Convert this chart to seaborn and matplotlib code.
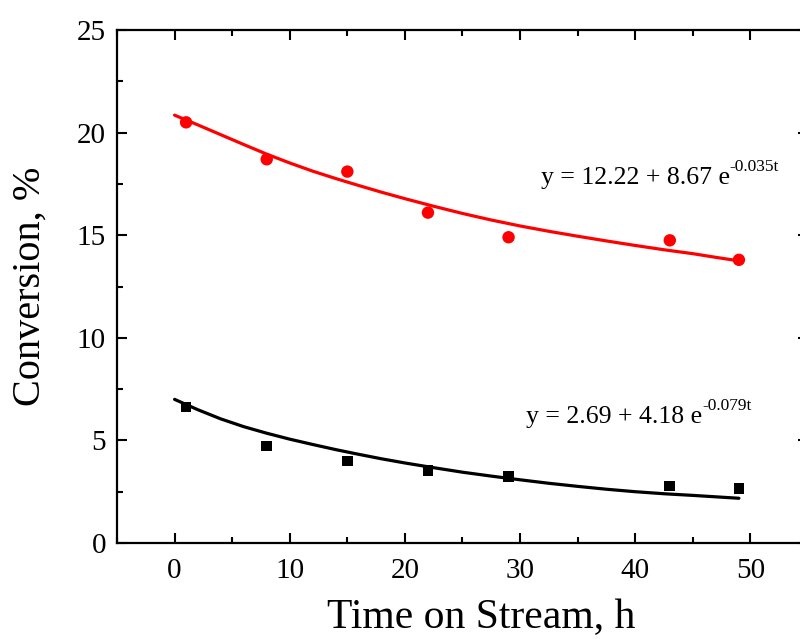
import matplotlib
matplotlib.use("Agg")
import matplotlib.pyplot as plt
from matplotlib.ticker import MultipleLocator
import seaborn as sns
import pandas as pd

# measured points
time_h = [1, 8, 15, 22, 29, 43, 49]
conv_red = [20.5, 18.7, 18.1, 16.1, 14.9, 14.75, 13.8]
conv_black = [6.63, 4.73, 4.0, 3.54, 3.24, 2.78, 2.66]

# fitted curves
fit_t = [0, 2, 4, 6, 8, 10, 12, 14, 16, 18, 20, 22.5, 25, 27.5, 30, 32.5, 35, 37.5, 40, 42.5, 45, 47, 49]
fit_red = [20.85, 20.38, 19.90, 19.42, 18.95, 18.52, 18.12, 17.76, 17.42, 17.09, 16.78, 16.41, 16.06, 15.74, 15.45,
           15.19, 14.95, 14.72, 14.50, 14.29, 14.10, 13.92, 13.75]
fit_black = [7.00, 6.50, 6.05, 5.67, 5.35, 5.06, 4.80, 4.55, 4.32, 4.10, 3.90, 3.67, 3.45, 3.26, 3.08,
             2.91, 2.76, 2.62, 2.50, 2.40, 2.32, 2.25, 2.18]

eq_red_main, eq_red_sup = "y = 12.22 + 8.67 e", "-0.035t"
eq_black_main, eq_black_sup = "y = 2.69 + 4.18 e", "-0.079t"

sns.set_theme(style="ticks")
plt.rcParams["font.family"] = ["Liberation Serif", "DejaVu Serif"]
plt.rcParams["text.color"] = "black"
plt.rcParams["axes.labelcolor"] = "black"
plt.rcParams["xtick.color"] = "black"
plt.rcParams["ytick.color"] = "black"

pts = pd.DataFrame({"t": time_h, "red": conv_red, "black": conv_black})
fit = pd.DataFrame({"t": fit_t, "red": fit_red, "black": fit_black})

fig = plt.figure(figsize=(8, 6.39), dpi=100)
ax = fig.add_axes([117 / 800, 1 - 543 / 639, 691 / 800, 513 / 639])

sns.lineplot(data=fit, x="t", y="red", color="#ff0000", lw=2.3, ax=ax)
sns.lineplot(data=fit, x="t", y="black", color="black", lw=2.3, ax=ax)
sns.scatterplot(data=pts, x="t", y="red", color="#ff0000", marker="o", s=80,
                edgecolor="none", ax=ax, zorder=5)
sns.scatterplot(data=pts, x="t", y="black", color="black", marker="s", s=60,
                edgecolor="none", ax=ax, zorder=5)

ax.set_xlim(-5, 55)
ax.set_ylim(0, 25)
ax.xaxis.set_major_locator(MultipleLocator(10))
ax.xaxis.set_minor_locator(MultipleLocator(5))
ax.yaxis.set_major_locator(MultipleLocator(5))
ax.yaxis.set_minor_locator(MultipleLocator(2.5))

for s in ax.spines.values():
    s.set_visible(True)
    s.set_linewidth(1.6)
    s.set_color("black")

ax.tick_params(which="both", direction="in", top=True, right=True, width=1.5,
               color="black", labelcolor="black")
ax.tick_params(which="major", length=7)
ax.tick_params(which="minor", length=4.5)
ax.tick_params(axis="x", which="major", labelsize=21, pad=11)
ax.tick_params(axis="y", which="major", labelsize=21, pad=8)

ax.set_xlabel("Time on Stream, h", fontsize=30, color="black")
ax.set_ylabel("Conversion, %", fontsize=29, color="black")
ax.xaxis.set_label_coords(0.527, -0.109)
ax.yaxis.set_label_coords(-0.099, 0.5)

for x0, y0, main, sup in [(31.8, 17.5, eq_red_main, eq_red_sup),
                          (30.5, 5.85, eq_black_main, eq_black_sup)]:
    t_main = ax.text(x0, y0, main, fontsize=18.5, va="baseline", ha="left", color="black")
    ax.annotate(sup, xy=(1.0, 0.62), xycoords=t_main, fontsize=12.5,
                va="bottom", ha="left", color="black")

fig.savefig("out.png", dpi=100)
